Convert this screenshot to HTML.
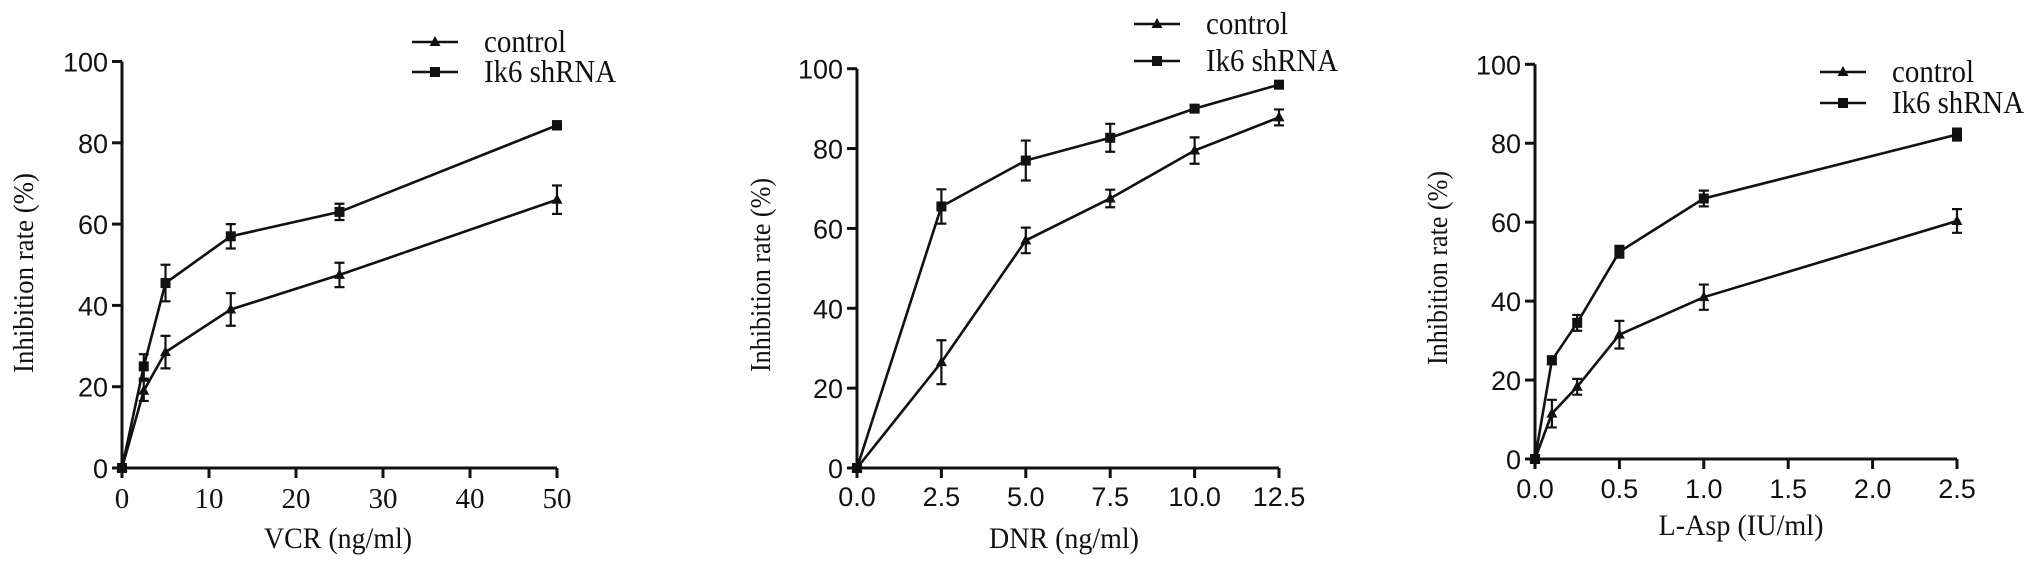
<!DOCTYPE html>
<html><head><meta charset="utf-8"><style>
html,body{margin:0;padding:0;background:#fff;}
svg{display:block;}
.tick{font-family:"Liberation Sans",sans-serif;font-size:27px;fill:#111;}
.ser{font-family:"Liberation Serif",serif;fill:#111;}
</style></head><body>
<svg id="chart" width="2031" height="567" viewBox="0 0 2031 567" xmlns="http://www.w3.org/2000/svg"></svg>
<script>
// Panel A: VCR
const vcrDoses = [0, 2.5, 5, 12.5, 25, 50];
const vcrControl = [0, 19, 28.5, 39, 47.5, 66];
const vcrControlErr = [0, 2.5, 4, 4, 3, 3.5];
const vcrShrna = [0, 25, 45.5, 57, 63, 84.3];
const vcrShrnaErr = [0, 3, 4.5, 3, 2, 1];
const vcrTicks = [0, 10, 20, 30, 40, 50];
// Panel B: DNR
const dnrDoses = [0, 2.5, 5, 7.5, 10, 12.5];
const dnrControl = [0, 26.5, 57, 67.5, 79.5, 87.8];
const dnrControlErr = [0, 5.5, 3.2, 2.2, 3.3, 2];
const dnrShrna = [0, 65.5, 77, 82.7, 90, 96];
const dnrShrnaErr = [0, 4.3, 5, 3.5, 0.8, 0.5];
const dnrTicks = ["0.0", "2.5", "5.0", "7.5", "10.0", "12.5"];
// Panel C: L-Asp
const aspDoses = [0, 0.1, 0.25, 0.5, 1.0, 2.5];
const aspControl = [0, 11.5, 18.3, 31.5, 41, 60.3];
const aspControlErr = [0, 3.5, 2, 3.5, 3.2, 3];
const aspShrna = [0, 25, 34.5, 52.5, 66, 82.2];
const aspShrnaErr = [0, 1, 2, 1.5, 2, 1.5];
const aspTicks = ["0.0", "0.5", "1.0", "1.5", "2.0", "2.5"];
const yTicks = [0, 20, 40, 60, 80, 100];
const legendLabels = ["control", "Ik6 shRNA"];

const svg = document.getElementById('chart');
const NS = 'http://www.w3.org/2000/svg';
function mk(tag, attrs, parent){const e=document.createElementNS(NS,tag);for(const k in attrs)e.setAttribute(k,attrs[k]);(parent||svg).appendChild(e);return e;}

const panels = [
 {id:'vcr', x0:122, x1:557, xmax:50, y0:468, y100:61.5, doses:vcrDoses, c:vcrControl, ce:vcrControlErr, s:vcrShrna, se:vcrShrnaErr, ticks:vcrTicks, tickVals:[0,10,20,30,40,50], serifX:true, tickBase:508, title:'VCR (ng/ml)', titleLen:148, titleX:338, titleY:548, ytX:24, ytY:273, ytLen:200, legX:412, legY1:42, legY2:72},
 {id:'dnr', x0:857, x1:1279, xmax:12.5, y0:468, y100:68.7, doses:dnrDoses, c:dnrControl, ce:dnrControlErr, s:dnrShrna, se:dnrShrnaErr, ticks:dnrTicks, tickVals:[0,2.5,5,7.5,10,12.5], serifX:false, tickBase:506, title:'DNR (ng/ml)', titleLen:150, titleX:1064, titleY:548, ytX:761, ytY:275, ytLen:194, legX:1134, legY1:24, legY2:61},
 {id:'asp', x0:1535, x1:1957, xmax:2.5, y0:459, y100:64.3, doses:aspDoses, c:aspControl, ce:aspControlErr, s:aspShrna, se:aspShrnaErr, ticks:aspTicks, tickVals:[0,0.5,1,1.5,2,2.5], serifX:false, tickBase:498, title:'L-Asp (IU/ml)', titleLen:165, titleX:1741, titleY:535, ytX:1438, ytY:268, ytLen:194, legX:1820, legY1:72, legY2:103}
];

function tri(g,x,y,name){const t=mk('polygon',{points:`${x},${y-6} ${x-5.5},${y+4} ${x+5.5},${y+4}`,fill:'#111'},g);


return t;}
function sq(g,x,y,name){const r=mk('rect',{x:x-5,y:y-5,width:10,height:10,fill:'#111'},g);


return r;}

panels.forEach(p=>{
 const g = mk('g',{});
 
 
 const sx = v => p.x0 + (p.x1-p.x0)*v/p.xmax;
 const sy = v => p.y0 - (p.y0-p.y100)*v/100;
 const ya = mk('line',{x1:p.x0,y1:sy(100),x2:p.x0,y2:p.y0,stroke:'#111','stroke-width':3},g);
 
 
 const xa = mk('line',{x1:p.x0,y1:p.y0,x2:p.x1,y2:p.y0,stroke:'#111','stroke-width':3},g);
 
 
 yTicks.forEach(v=>{
  mk('line',{x1:p.x0-10,y1:sy(v),x2:p.x0,y2:sy(v),stroke:'#111','stroke-width':3},g);
  const t = mk('text',{x:p.x0-14,y:sy(v)+10,'text-anchor':'end',class:'tick'},g);
  t.textContent = v;
  
  
 });
 p.tickVals.forEach((v,i)=>{
  mk('line',{x1:sx(v),y1:p.y0,x2:sx(v),y2:p.y0+10,stroke:'#111','stroke-width':3},g);
  const t = mk('text',{x:sx(v),y:p.tickBase,'text-anchor':'middle',class:p.serifX?'ser':'tick','font-size':p.serifX?29:27},g);
  t.textContent = p.ticks[i];
  
  
 });
 const xt = mk('text',{x:p.titleX,y:p.titleY,'text-anchor':'middle',class:'ser','font-size':30,textLength:p.titleLen,lengthAdjust:'spacingAndGlyphs'},g);
 xt.textContent = p.title;
 
 
 const yt = mk('text',{x:p.ytX,y:p.ytY,'text-anchor':'middle',class:'ser','font-size':28,transform:`rotate(-90 ${p.ytX} ${p.ytY})`,dy:9,textLength:p.ytLen,lengthAdjust:'spacingAndGlyphs'},g);
 yt.textContent = 'Inhibition rate (%)';
 
 
 [[p.c,p.ce,'control',tri],[p.s,p.se,'shrna',sq]].forEach(([vals,errs,nm,marker])=>{
  const pts = p.doses.map((d,i)=>`${sx(d)},${sy(vals[i])}`).join(' ');
  const l = mk('polyline',{points:pts,fill:'none',stroke:'#111','stroke-width':2.6},g);
  
  
  p.doses.forEach((d,i)=>{
   const x=sx(d), yu=sy(vals[i]+errs[i]), yl=sy(vals[i]-errs[i]);
   if(errs[i]>0){
    const eb = mk('path',{d:`M${x},${yu}V${yl}M${x-5},${yu}H${x+5}M${x-5},${yl}H${x+5}`,stroke:'#111','stroke-width':2.2,fill:'none'},g);
    
    
   }
   marker(g,x,sy(vals[i]),nm+'-point');
  });
 });
 [[p.legY1,legendLabels[0],tri,'control',82],[p.legY2,legendLabels[1],sq,'shrna',132]].forEach(([y,lab,marker,nm,len])=>{
  const ll = mk('line',{x1:p.legX,y1:y,x2:p.legX+46,y2:y,stroke:'#111','stroke-width':2.6},g);
  
  
  marker(g,p.legX+23,y,'legend-'+nm+'-marker');
  const t = mk('text',{x:p.legX+72,y:y+10,class:'ser','font-size':32,textLength:len,lengthAdjust:'spacingAndGlyphs'},g);
  t.textContent = lab;
  
  
 });
});
</script>
</body></html>
